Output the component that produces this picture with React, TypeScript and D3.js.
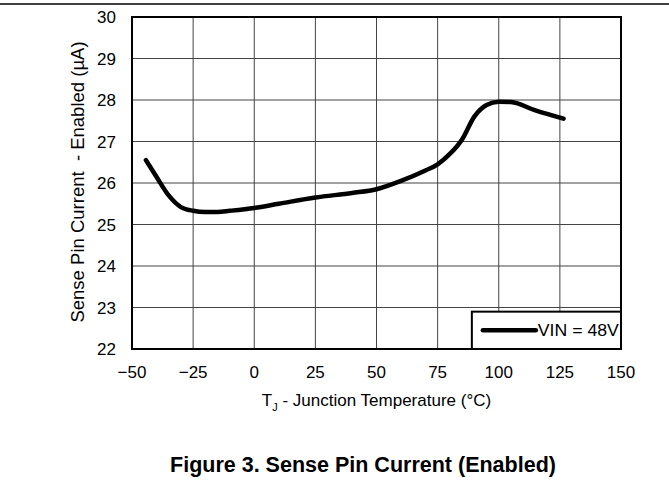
import { useRef, useEffect } from "react";
import * as d3 from "d3";

const temps = [-44.3, -40, -35, -30, -25, -20, -15, -10, 0, 10, 25, 40, 50, 60, 70, 75, 80, 85, 90, 95, 100, 105, 115, 126.5];
const current = [26.55, 26.15, 25.7, 25.42, 25.33, 25.3, 25.3, 25.33, 25.4, 25.5, 25.65, 25.76, 25.85, 26.05, 26.3, 26.45, 26.7, 27.05, 27.6, 27.88, 27.96, 27.95, 27.75, 27.55];
const xTicks = [-50, -25, 0, 25, 50, 75, 100, 125, 150];
const yTicks = [22, 23, 24, 25, 26, 27, 28, 29, 30];
const seriesLabel = "VIN = 48V";

const font = "'Liberation Sans', Arial, sans-serif";

export default function App() {
  const ref = useRef<SVGSVGElement>(null);

  useEffect(() => {
    document.body.style.margin = "0";
    if (!ref.current) return;
    const svg = d3.select(ref.current); svg.selectAll("*").remove();
    const W = 669, H = 491;
    const margin = { top: 17, right: 48, bottom: 142, left: 132 };
    const width = W - margin.left - margin.right;
    const height = H - margin.top - margin.bottom;
    svg.attr("width", W).attr("height", H).style("background", "#fff");
    svg.append("line").attr("x1", 0).attr("x2", W).attr("y1", 4).attr("y2", 4).attr("stroke", "#000").attr("stroke-width", 1.5);
    const g = svg.append("g").attr("transform", `translate(${margin.left},${margin.top})`);
    const x = d3.scaleLinear().domain([-50, 150]).range([0, width]);
    const y = d3.scaleLinear().domain([22, 30]).range([height, 0]);

    // grid
    g.selectAll(".vg").data(xTicks.slice(1, -1)).join("line")
      .attr("x1", d => x(d)).attr("x2", d => x(d)).attr("y1", 0).attr("y2", height)
      .attr("stroke", "#444").attr("stroke-width", 1);
    g.selectAll(".hg").data(yTicks.slice(1, -1)).join("line")
      .attr("x1", 0).attr("x2", width).attr("y1", d => y(d)).attr("y2", d => y(d))
      .attr("stroke", "#444").attr("stroke-width", 1);

    // tick labels
    g.selectAll(".xt").data(xTicks).join("text")
      .attr("x", d => x(d)).attr("y", height + 29).attr("text-anchor", "middle")
      .attr("font-size", "17px").attr("font-family", font).attr("fill", "#000")
      .text(d => (d < 0 ? "\u2212" + Math.abs(d) : String(d)));
    g.selectAll(".yt").data(yTicks).join("text")
      .attr("x", -16).attr("y", d => y(d) + 6).attr("text-anchor", "end")
      .attr("font-size", "17px").attr("font-family", font).attr("fill", "#000")
      .text(d => d);

    // data line
    const line = d3.line<number>().x((_d, i) => x(temps[i])).y(d => y(d)).curve(d3.curveMonotoneX);
    g.append("path").datum(current).attr("fill", "none").attr("stroke", "#000")
      .attr("stroke-width", 4.5).attr("stroke-linecap", "round").attr("stroke-linejoin", "round").attr("d", line);

    // legend
    const lx = x(89), ly = y(22.9);
    g.append("rect").attr("x", lx).attr("y", ly).attr("width", width - lx).attr("height", height - ly)
      .attr("fill", "#fff").attr("stroke", "#000").attr("stroke-width", 2);
    const my = (ly + height) / 2;
    g.append("line").attr("x1", lx + 11).attr("x2", lx + 64).attr("y1", my).attr("y2", my)
      .attr("stroke", "#000").attr("stroke-width", 4.5).attr("stroke-linecap", "round");
    g.append("text").attr("x", lx + 66).attr("y", my + 6).attr("font-size", "17px").attr("font-family", font)
      .attr("fill", "#000").attr("textLength", 81).attr("lengthAdjust", "spacingAndGlyphs").text(seriesLabel);

    // frame
    g.append("rect").attr("x", 0).attr("y", 0).attr("width", width).attr("height", height)
      .attr("fill", "none").attr("stroke", "#000").attr("stroke-width", 2);

    // axis titles
    const xt = g.append("text").attr("x", width / 2).attr("y", height + 57).attr("text-anchor", "middle")
      .attr("font-size", "17px").attr("font-family", font).attr("fill", "#000");
    xt.append("tspan").text("T");
    xt.append("tspan").attr("font-size", "11px").attr("dy", 5).text("J");
    xt.append("tspan").attr("dy", -5).text(" - Junction Temperature (\u00b0C)");
    g.append("text").attr("transform", `translate(-48,${height / 2 - 1}) rotate(-90)`).attr("text-anchor", "middle")
      .attr("font-size", "18.5px").attr("font-family", font).attr("fill", "#000").style("white-space", "pre")
      .text("Sense Pin Current  - Enabled (\u00b5A)");

    svg.append("text").attr("x", 363).attr("y", 472).attr("text-anchor", "middle")
      .attr("font-size", "21.5px").attr("font-weight", "bold").attr("font-family", font).attr("fill", "#000")
      .text("Figure 3. Sense Pin Current (Enabled)");
  }, []);

  return <svg ref={ref} style={{ display: "block" }} />;
}
